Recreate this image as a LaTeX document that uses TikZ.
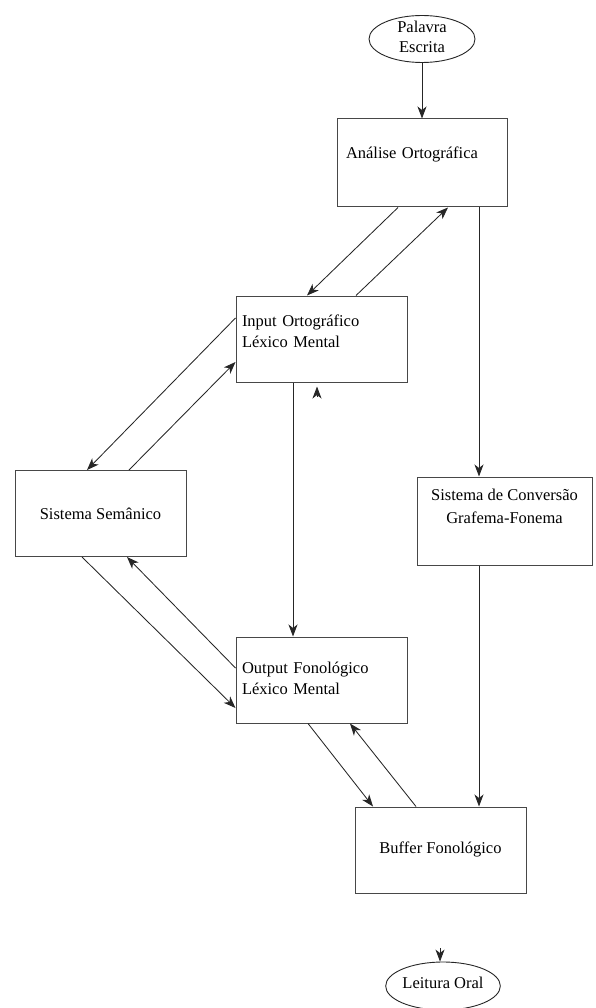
\documentclass[tikz,border=0pt]{standalone}
\usepackage{fontspec}
\setmainfont{Liberation Serif}
\usepackage{tikz}
\usetikzlibrary{shapes.geometric,arrows.meta}

\begin{document}
\begin{tikzpicture}[x=1pt,y=-1pt,>={Stealth[length=12pt,width=9pt,inset=3.5pt]}]
\tikzstyle{box}=[draw=black!72,line width=1pt,rectangle,minimum width=171pt,minimum height=86pt,inner sep=6pt,font=\fontsize{16.5}{21}\selectfont,text height=12pt]
\tikzstyle{oval}=[draw=black!85,line width=0.9pt,ellipse,inner sep=0pt,font=\fontsize{16.5}{20}\selectfont]
\tikzstyle{link}=[draw=black!85,line width=0.85pt,->]
\useasboundingbox (0,0) rectangle (595,1008);
\node [oval,minimum width=106pt,minimum height=47pt,text height=28pt,text depth=0pt,align=center] (palavra) at (422,39) {Palavra\\Escrita};
\node [box,minimum width=170pt,minimum height=88pt,inner xsep=9pt,text width=152pt,align=left,text depth=20pt] (analise) at (422,163) {Análise Ortográfica};
\node [box,text width=159pt,align=left,text depth=38pt] (input) at (321.5,339) {Input Ortográfico\\Léxico Mental};
\node [box,text depth=1pt] (semantico) at (100.5,513.5) {Sistema Semânico};
\node [box,minimum width=175pt,minimum height=88pt,align=center,text height=35pt,text depth=31pt] (conversao) at (504.5,521) {Sistema de Conversão\\[2pt]Grafema-Fonema};
\node [box,text width=159pt,align=left,text depth=26pt] (output) at (321.5,680) {Output Fonológico\\Léxico Mental};
\node [box,text depth=6pt] (buffer) at (440.5,850) {Buffer Fonológico};
\node [oval,minimum width=112pt,minimum height=48pt,text height=8pt,text depth=4pt] (leitura) at (443,986) {Leitura Oral};
% loose arrow tips
\coordinate (tipA) at (317,397);
\coordinate (tipB) at (440,948);
\draw[link] (palavra) -- (analise);
\draw[link] ([shift={(-24,0)}]analise.south) -- ([shift={(-14.5,0)}]input.north);
\draw[link] ([shift={(34.5,0)}]input.north) -- ([shift={(26,0)}]analise.south);
\draw[link] ([shift={(57,0)}]analise.south) -- ([shift={(-25.5,0)}]conversao.north);
\draw[link] ([shift={(0,-21)}]input.west) -- ([shift={(-13.5,0)}]semantico.north);
\draw[link] ([shift={(28.5,0)}]semantico.north) -- ([shift={(0,23)}]input.west);
\draw[link] ([shift={(-28.5,0)}]input.south) -- ([shift={(-28.5,0)}]output.north);
\draw[link] ([shift={(-18.5,0)}]semantico.south) -- ([shift={(0,28)}]output.west);
\draw[link] ([shift={(0,-12)}]output.west) -- ([shift={(26.5,0)}]semantico.south);
\draw[link] ([shift={(-13.5,0)}]output.south) -- ([shift={(-67.5,0)}]buffer.north);
\draw[link] ([shift={(-24.5,0)}]buffer.north) -- ([shift={(28.5,0)}]output.south);
\draw[link] ([shift={(-25.5,0)}]conversao.south) -- ([shift={(38.5,0)}]buffer.north);
\draw[link] (tipA) -- ([shift={(-4.5,4)}]input.south);
\draw[link] (tipB) -- ([shift={(-3,0)}]leitura.north);
\end{tikzpicture}
\end{document}
